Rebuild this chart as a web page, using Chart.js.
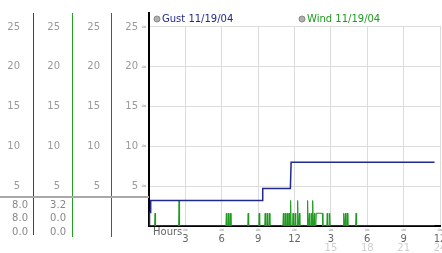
<!DOCTYPE html>
<html>
<head>
<meta charset="utf-8">
<script src="https://cdn.jsdelivr.net/npm/chart.js@4/dist/chart.umd.min.js"></script>
<style>
  html, body { margin: 0; padding: 0; background: #fff; }
</style>
</head>
<body>
<canvas id="windChart" width="442" height="253"></canvas>
<script>
// gust readings (hours since midnight, value)
var gustHours  = [0.02, 0.04, 0.12, 0.14, 9.33, 9.38, 11.66, 11.72, 23.55];
var gustValues = [0,    1.7,  1.7,  3.2,  3.2,  4.7,  4.7,   8.0,   8.0];

// wind readings (hours since midnight, value)
var windHours = [
  0, 0.46, 0.50, 0.54, 2.44, 2.48, 2.52,
  6.34, 6.38, 6.42, 6.51, 6.55, 6.59, 6.68, 6.72, 6.76,
  8.14, 8.18, 8.22, 9.05, 9.09, 9.13,
  9.54, 9.58, 9.62, 9.71, 9.75, 9.79, 9.89, 9.93, 9.97,
  11.04, 11.08, 11.12, 11.20, 11.24, 11.28, 11.36, 11.40, 11.44,
  11.51, 11.55, 11.59, 11.64, 11.68, 11.72, 11.84, 11.88, 11.92,
  12.02, 12.06, 12.10, 12.22, 12.26, 12.30, 12.36, 12.40, 12.44,
  13.04, 13.08, 13.12, 13.18, 13.22, 13.26, 13.36, 13.40, 13.44,
  13.46, 13.50, 13.54, 13.60, 13.64, 13.68,
  13.76, 13.80, 14.30, 14.34,
  14.66, 14.70, 14.74, 14.86, 14.90, 14.94,
  16.02, 16.06, 16.10, 16.16, 16.20, 16.24, 16.32, 16.36, 16.40,
  17.04, 17.08, 17.12, 23.55
];
var windValues = [
  0, 0, 1.6, 0, 0, 3.2, 0,
  0, 1.6, 0, 0, 1.6, 0, 0, 1.6, 0,
  0, 1.6, 0, 0, 1.6, 0,
  0, 1.6, 0, 0, 1.6, 0, 0, 1.6, 0,
  0, 1.6, 0, 0, 1.6, 0, 0, 1.6, 0,
  0, 1.6, 0, 0, 3.2, 0, 0, 1.6, 0,
  0, 1.6, 0, 0, 3.2, 0, 0, 1.6, 0,
  0, 3.2, 0, 0, 1.6, 0, 0, 1.6, 0,
  0, 3.2, 0, 0, 1.6, 0,
  0, 1.6, 1.6, 0,
  0, 1.6, 0, 0, 1.6, 0,
  0, 1.6, 0, 0, 1.6, 0, 0, 1.6, 0,
  0, 1.6, 0, 0
];

var yTicks = [5, 10, 15, 20, 25];
var hourTicks = [3, 6, 9, 12, 15, 18, 21, 24];
var hourLabels = ['3', '6', '9', '12', '3', '6', '9', '12'];
var hourLabelsLate = ['', '', '', '', '15', '18', '21', '24'];

var gustStats = ['8.0', '8.0', '0.0'];
var windStats = ['3.2', '0.0', '0.0'];

var BLUE = '#1f2a8c';
var GREEN = '#1f9a1f';
var SIDE_BLUE = '#1a3cc0';
var SIDE_GREEN = '#22a022';
var SIDE_RED = '#cc2222';
var FONT = { family: 'DejaVu Sans', size: 10 };

function toPoints(xs, ys) {
  return xs.map(function (x, i) { return { x: x, y: ys[i] }; });
}

function keepYTicks(scale) {
  scale.ticks = yTicks.map(function (v) { return { value: v }; });
}
function keepHourTicks(scale) {
  scale.ticks = hourTicks.map(function (v) { return { value: v }; });
}

// fixed sizes, and no extra room for overhanging labels
function fixWidth(w) {
  return function (scale) {
    scale.width = w;
    scale.paddingTop = 0;
    scale.paddingBottom = 0;
  };
}
function fixHeight(h) {
  return function (scale) {
    scale.height = h;
    scale.paddingLeft = 0;
    scale.paddingRight = 0;
  };
}

function sideAxis(color, width, padding, weight) {
  return {
    type: 'linear',
    position: 'left',
    weight: weight,
    min: 0,
    max: 26.75,
    grid: { display: false, drawTicks: false },
    border: { display: true, color: color, width: 1 },
    ticks: { color: '#999', font: FONT, padding: padding },
    afterBuildTicks: keepYTicks,
    afterFit: fixWidth(width)
  };
}

var extras = {
  id: 'extras',
  afterDraw: function (chart) {
    var ctx = chart.ctx, area = chart.chartArea, s = chart.scales;
    ctx.save();

    // legend strip above the top grid line
    var topLine = s.y.getPixelForValue(25);
    ctx.fillStyle = '#fff';
    ctx.fillRect(area.left + 1, area.top - 1, area.right - area.left + 2, topLine - area.top);

    // the side panels run on below the plot
    [['yGust', SIDE_BLUE, 235], ['yWind', SIDE_GREEN, 237], ['yRed', SIDE_RED, 237]].forEach(function (a) {
      var x = Math.round(s[a[0]].right - 0.5) + 0.5;
      ctx.strokeStyle = a[1];
      ctx.lineWidth = 1;
      ctx.beginPath();
      ctx.moveTo(x, area.bottom);
      ctx.lineTo(x, a[2]);
      ctx.stroke();
    });

    // separator over the stats
    ctx.strokeStyle = '#a8a8a8';
    ctx.lineWidth = 2;
    ctx.beginPath();
    ctx.moveTo(0, 197);
    ctx.lineTo(area.left, 197);
    ctx.stroke();

    // stats
    ctx.font = '10px "DejaVu Sans"';
    ctx.fillStyle = '#888';
    ctx.textAlign = 'right';
    ctx.textBaseline = 'middle';
    [[gustStats, s.yGust.right - 5], [windStats, s.yWind.right - 6]].forEach(function (c) {
      c[0].forEach(function (t, i) { ctx.fillText(t, c[1], 205 + i * 13.5); });
    });

    // small marks beside the ticks
    ctx.font = '7px "DejaVu Sans"';
    ctx.fillStyle = '#aaa';
    ctx.textAlign = 'center';
    yTicks.forEach(function (v) { ctx.fillText('\u2248', area.left - 5, s.y.getPixelForValue(v)); });
    hourTicks.forEach(function (v) { ctx.fillText('\u2248', s.x.getPixelForValue(v), area.bottom + 4); });

    // hours caption
    ctx.font = '10px "DejaVu Sans"';
    ctx.fillStyle = '#666';
    ctx.textAlign = 'left';
    ctx.fillText('Hours', area.left + 4, 232);

    // legend
    var items = [[chart.data.datasets[0], area.left + 8], [chart.data.datasets[1], area.left + 153]];
    items.forEach(function (it) {
      ctx.fillStyle = '#b0b0b0';
      ctx.strokeStyle = '#888';
      ctx.lineWidth = 1;
      ctx.beginPath();
      ctx.arc(it[1], 19, 3, 0, Math.PI * 2);
      ctx.fill();
      ctx.stroke();
      ctx.fillStyle = it[0].borderColor;
      ctx.fillText(it[0].label, it[1] + 5, 19);
    });

    ctx.restore();
  }
};

new Chart(document.getElementById('windChart'), {
  type: 'line',
  data: {
    datasets: [{
      label: 'Gust 11/19/04',
      data: toPoints(gustHours, gustValues),
      borderColor: BLUE,
      borderWidth: 1.5,
      pointRadius: 0,
      tension: 0
    }, {
      label: 'Wind 11/19/04',
      data: toPoints(windHours, windValues),
      borderColor: GREEN,
      borderWidth: 1,
      pointRadius: 0,
      tension: 0
    }]
  },
  options: {
    responsive: false,
    animation: false,
    layout: { padding: { top: 13, right: 2, bottom: 0, left: 0 } },
    plugins: { legend: { display: false }, tooltip: { enabled: false } },
    scales: {
      x: {
        type: 'linear',
        position: 'bottom',
        weight: 0,
        z: 1,
        min: 0,
        max: 24,
        grid: { color: '#dcdcdc', drawTicks: false },
        border: { color: '#000', width: 2 },
        ticks: {
          color: '#666', font: FONT, padding: 7, maxRotation: 0,
          callback: function (v) { return hourLabels[hourTicks.indexOf(v)]; }
        },
        afterBuildTicks: keepHourTicks,
        afterFit: fixHeight(16)
      },
      x2: {
        type: 'linear',
        position: 'bottom',
        weight: 1,
        min: 0,
        max: 24,
        grid: { display: false, drawTicks: false },
        border: { display: false },
        ticks: {
          color: '#cfcfcf', font: FONT, padding: 0, maxRotation: 0,
          callback: function (v) { return hourLabelsLate[hourTicks.indexOf(v)]; }
        },
        afterBuildTicks: keepHourTicks,
        afterFit: fixHeight(11)
      },
      y: {
        type: 'linear',
        position: 'left',
        weight: 0,
        min: 0,
        max: 26.75,
        grid: { color: '#dcdcdc', drawTicks: false },
        border: { color: '#000', width: 2 },
        ticks: { color: '#999', font: FONT, padding: 11 },
        afterBuildTicks: keepYTicks,
        afterFit: fixWidth(38)
      },
      yRed: sideAxis(SIDE_RED, 39, 11, 1),
      yWind: sideAxis(SIDE_GREEN, 39, 12, 2),
      yGust: sideAxis(SIDE_BLUE, 33, 13, 3)
    }
  },
  plugins: [extras]
});
</script>
</body>
</html>
